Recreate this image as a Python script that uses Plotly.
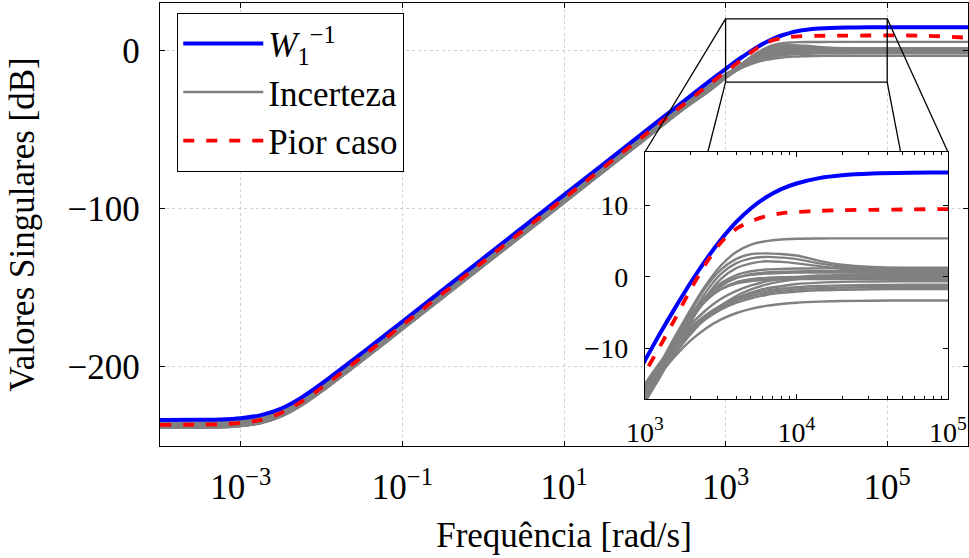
import math
import plotly.graph_objects as go

# ---------------- data ----------------
log_w = [-4, -3.5, -3.25, -3, -2.75, -2.5, -2.25, -2, -1.5, -1, 0, 1, 2, 2.5, 2.8,
         3.0, 3.1, 3.2, 3.3, 3.4, 3.5, 3.6, 3.7, 3.8, 3.9, 4.0,
         4.15, 4.3, 4.5, 4.75, 5.0, 5.5, 6.0]
freq = [10 ** e for e in log_w]

w1_inv_db = [-233.5, -233.4, -233.2, -232.4, -230.5, -226.3, -219.4, -210.6, -191.2, -171.3,
             -131.3, -91.3, -51.3, -31.3, -19.4,
             -11.7, -7.9, -4.3, -0.85, 2.33, 5.18, 7.63, 9.62, 11.16, 12.3, 13.09,
             13.84, 14.24, 14.49, 14.6, 14.63, 14.65, 14.65]

pior_caso_db = [-236.6, -236.5, -236.2, -235.4, -233.5, -229.1, -222.0, -213.2, -193.6, -173.6,
                -133.5, -93.5, -53.4, -33.3, -21.3,
                -13.4, -9.7, -5.8, -1.8, 1.8, 4.8, 6.7, 7.8, 8.5, 8.9, 9.1,
                9.25, 9.35, 9.4, 9.45, 9.5, 9.3, 8.0]

inc_01 = [-237.9, -237.8, -237.6, -236.8, -234.9, -230.7, -223.8, -215.0, -195.6, -175.7,
          -135.7, -95.7, -55.7, -35.7, -24.1,
          -16.2, -12.2, -8.3, -4.6, -1.2, 1.56, 3.45, 4.52, 5.01, 5.25, 5.34,
          5.38, 5.4, 5.4, 5.4, 5.4, 5.4, 5.4]
inc_02 = [-238.2, -238.1, -237.9, -237.1, -235.2, -231.0, -224.1, -215.3, -195.9, -176.0,
          -136.0, -96.0, -56.0, -36.0, -24.9,
          -16.8, -13.0, -9.0, -5.0, -1.5, 1.0, 2.5, 3.2, 3.3, 3.2, 3.0,
          2.25, 1.7, 1.4, 1.3, 1.3, 1.3, 1.3]
inc_03 = [-238.5, -238.4, -238.2, -237.4, -235.5, -231.3, -224.4, -215.6, -196.2, -176.3,
          -136.3, -96.3, -56.3, -36.3, -25.3,
          -17.2, -13.5, -9.6, -5.7, -2.2, 0.4, 1.9, 2.6, 2.8, 2.7, 2.5,
          1.9, 1.45, 1.2, 1.1, 1.1, 1.1, 1.1]
inc_04 = [-238.5, -238.4, -238.2, -237.4, -235.5, -231.3, -224.4, -215.6, -196.2, -176.3,
          -136.3, -96.3, -56.3, -36.3, -25.7,
          -17.6, -14.0, -10.2, -6.4, -2.9, -0.3, 1.2, 1.9, 2.2, 2.1, 1.9,
          1.5, 1.15, 0.95, 0.9, 0.9, 0.9, 0.9]
inc_05 = [-238.3, -238.2, -238.0, -237.2, -235.3, -231.1, -224.2, -215.4, -196.0, -176.1,
          -136.1, -96.1, -56.1, -36.1, -24.8,
          -16.9, -13.0, -9.2, -5.8, -2.9, -0.9, 0.23, 0.79, 1.03, 1.13, 1.17,
          1.2, 1.2, 1.2, 1.2, 1.2, 1.2, 1.2]
inc_06 = [-238.5, -238.4, -238.2, -237.4, -235.5, -231.3, -224.4, -215.6, -196.2, -176.3,
          -136.3, -96.3, -56.3, -36.3, -25.2,
          -17.3, -13.4, -9.6, -6.2, -3.3, -1.3, -0.17, 0.39, 0.63, 0.73, 0.77,
          0.8, 0.8, 0.8, 0.8, 0.8, 0.8, 0.8]
inc_07 = [-235.8, -235.7, -235.5, -234.7, -232.8, -228.6, -221.7, -212.9, -193.5, -173.6,
          -133.6, -93.6, -53.6, -33.8, -22.3,
          -15.2, -12.0, -9.1, -6.7, -4.7, -3.1, -2.0, -1.2, -0.63, -0.26, -0.03,
          0.19, 0.29, 0.36, 0.4, 0.4, 0.4, 0.4]
inc_08 = [-238.1, -238.0, -237.8, -237.0, -235.1, -230.9, -224.0, -215.2, -195.8, -175.9,
          -135.9, -95.9, -55.9, -35.9, -24.8,
          -16.9, -13.0, -9.3, -6.0, -3.4, -1.7, -0.76, -0.32, -0.13, -0.05, 0.0,
          0.0, 0.0, 0.0, 0.0, 0.0, 0.0, 0.0]
inc_09 = [-236.8, -236.7, -236.5, -235.7, -233.8, -229.6, -222.7, -213.9, -194.5, -174.6,
          -134.6, -94.6, -54.6, -34.6, -23.3,
          -16.2, -13.0, -10.1, -7.7, -5.7, -4.1, -3.0, -2.2, -1.6, -1.3, -1.0,
          -0.8, -0.7, -0.64, -0.6, -0.6, -0.6, -0.6]
inc_10 = [-237.8, -237.7, -237.5, -236.7, -234.8, -230.6, -223.7, -214.9, -195.5, -175.6,
          -135.6, -95.6, -55.6, -35.6, -24.2,
          -16.3, -12.4, -8.7, -5.4, -2.8, -1.1, -0.16, 0.28, 0.47, 0.55, 0.6,
          0.6, 0.6, 0.6, 0.6, 0.6, 0.6, 0.6]
inc_11 = [-237.7, -237.6, -237.4, -236.6, -234.7, -230.5, -223.6, -214.8, -195.4, -175.5,
          -135.5, -95.5, -55.5, -35.5, -24.3,
          -16.4, -12.6, -8.9, -5.8, -3.3, -1.76, -0.94, -0.57, -0.41, -0.34, -0.3,
          -0.3, -0.3, -0.3, -0.3, -0.3, -0.3, -0.3]
inc_12 = [-237.5, -237.4, -237.2, -236.4, -234.5, -230.3, -223.4, -214.6, -195.2, -175.3,
          -135.3, -95.3, -55.3, -35.3, -24.3,
          -17.1, -13.7, -10.7, -8.05, -5.8, -4.05, -2.7, -1.75, -1.08, -0.63, -0.34,
          -0.07, 0.06, 0.15, 0.18, 0.2, 0.2, 0.2]
inc_13 = [-235.3, -235.2, -235.0, -234.2, -232.3, -228.1, -221.2, -212.4, -193.0, -173.1,
          -133.1, -93.1, -53.1, -33.1, -21.9,
          -15.0, -12.0, -9.35, -7.1, -5.35, -4.0, -3.05, -2.4, -1.93, -1.64, -1.44,
          -1.27, -1.19, -1.13, -1.1, -1.1, -1.1, -1.1]
inc_14 = [-235.6, -235.5, -235.3, -234.5, -232.6, -228.4, -221.5, -212.7, -193.3, -173.4,
          -133.4, -93.4, -53.4, -33.4, -22.2,
          -15.3, -12.3, -9.65, -7.4, -5.65, -4.3, -3.35, -2.7, -2.23, -1.94, -1.74,
          -1.57, -1.49, -1.43, -1.4, -1.4, -1.4, -1.4]
inc_15 = [-235.9, -235.8, -235.6, -234.8, -232.9, -228.7, -221.8, -213.0, -193.6, -173.7,
          -133.7, -93.7, -53.7, -33.7, -22.5,
          -15.6, -12.6, -9.95, -7.7, -5.95, -4.6, -3.65, -3.0, -2.53, -2.24, -2.04,
          -1.87, -1.79, -1.73, -1.7, -1.7, -1.7, -1.7]
inc_16 = [-236.7, -236.6, -236.4, -235.6, -233.7, -229.5, -222.6, -213.8, -194.4, -174.5,
          -134.5, -94.5, -54.5, -34.5, -23.4,
          -16.6, -13.65, -11.07, -8.93, -7.25, -5.99, -5.09, -4.47, -4.06, -3.79, -3.61,
          -3.46, -3.38, -3.33, -3.3, -3.3, -3.3, -3.3]
incerteza = [inc_01, inc_02, inc_03, inc_04, inc_05, inc_06, inc_07, inc_08,
             inc_09, inc_10, inc_11, inc_12, inc_13, inc_14, inc_15, inc_16]

main_xticks = [1e-3, 1e-1, 1e1, 1e3, 1e5]
main_xtext = ["10<sup>−3</sup>", "10<sup>−1</sup>", "10<sup>1</sup>", "10<sup>3</sup>", "10<sup>5</sup>"]
main_yticks = [-200, -100, 0]
main_ytext = ["−200", "−100", "0"]
inset_xticks = [1e3, 1e4, 1e5]
inset_xtext = ["10<sup>3</sup>", "10<sup>4</sup>", "10<sup>5</sup>"]
inset_minor = [m * 10 ** d for d in (3, 4) for m in range(2, 10)]
inset_yticks = [-10, 0, 10]
inset_ytext = ["−10", "0", "10"]

# zoom window (data units of main axes)
zoom_x = [1e3, 1e5]
zoom_y = [-20, 20]

# ---------------- style / layout ----------------
FONT = "Liberation Serif"
W, H = 969, 558
ML, MR, MT, MB = 160, 1, 3, 112
main_xrange = [-4, 6]
main_yrange = [-250, 30]
inset_xrange = [3, 5]
inset_yrange = [-17.1, 17.5]
inset_dx = [0.6002, 0.9752]
inset_dy = [0.1061, 0.6637]

BLUE = "#0000ff"
RED = "#ff0000"
GRAY = "#808080"

fig = go.Figure()

for ax_x, ax_y, show in (("x", "y", True), ("x2", "y2", False)):
    for i, g in enumerate(incerteza):
        fig.add_trace(go.Scatter(
            x=freq, y=g, mode="lines", xaxis=ax_x, yaxis=ax_y,
            line=dict(color=GRAY, width=2.4, shape="spline", smoothing=0.8),
            name="Incerteza", legendgroup="inc", legendrank=2,
            showlegend=(show and i == 0), hoverinfo="skip"))
    fig.add_trace(go.Scatter(
        x=freq, y=w1_inv_db, mode="lines", xaxis=ax_x, yaxis=ax_y,
        line=dict(color=BLUE, width=4, shape="spline", smoothing=0.8),
        name="<i>W</i><sub>1</sub><sup>−1</sup>", legendgroup="w1", legendrank=1,
        showlegend=show, hoverinfo="skip"))
    fig.add_trace(go.Scatter(
        x=freq, y=pior_caso_db, mode="lines", xaxis=ax_x, yaxis=ax_y,
        line=dict(color=RED, width=3.8, dash="11px,12px", shape="spline", smoothing=0.8),
        name="Pior caso", legendgroup="pc", legendrank=3,
        showlegend=show, hoverinfo="skip"))

axis_common = dict(showline=True, linecolor="black", linewidth=1.4, mirror="ticks",
                   ticks="inside", tickcolor="black", tickwidth=1, zeroline=False,
                   automargin=False)

fig.update_layout(
    width=W, height=H,
    margin=dict(l=ML, r=MR, t=MT, b=MB, pad=0),
    paper_bgcolor="white", plot_bgcolor="white",
    font=dict(family=FONT, size=35, color="black"),
    xaxis=dict(type="log", range=main_xrange, tickmode="array", tickvals=main_xticks,
               ticktext=main_xtext, ticklen=5, showgrid=True, gridcolor="#d0d0d0",
               griddash="dot", gridwidth=1, ticklabelstandoff=10,
               title=dict(text="Frequência [rad/s]", standoff=16,
                          font=dict(family=FONT, size=35)),
               tickfont=dict(family=FONT, size=35), **axis_common),
    yaxis=dict(range=main_yrange, tickmode="array", tickvals=main_yticks,
               ticktext=main_ytext, ticklen=5, showgrid=True, gridcolor="#d0d0d0",
               griddash="dot", gridwidth=1, ticklabelstandoff=12,
               title=dict(text="Valores Singulares [dB]", standoff=22,
                          font=dict(family=FONT, size=35)),
               tickfont=dict(family=FONT, size=35), **axis_common),
    xaxis2=dict(type="log", range=inset_xrange, domain=inset_dx, anchor="y2",
                tickmode="array", tickvals=inset_xticks, ticktext=inset_xtext,
                ticklen=5, showgrid=False, ticklabelstandoff=8,
                minor=dict(tickmode="array", tickvals=inset_minor, ticks="inside",
                           ticklen=3, tickcolor="black", showgrid=False),
                tickfont=dict(family=FONT, size=28), **axis_common),
    yaxis2=dict(range=inset_yrange, domain=inset_dy, anchor="x2",
                tickmode="array", tickvals=inset_yticks, ticktext=inset_ytext,
                ticklen=5, showgrid=False, ticklabelstandoff=10,
                tickfont=dict(family=FONT, size=28), **axis_common),
    legend=dict(x=0.021, y=0.9774, xanchor="left", yanchor="top",
                bgcolor="white", bordercolor="black", borderwidth=1.3,
                font=dict(family=FONT, size=35), itemwidth=80,
                entrywidth=258, entrywidthmode="pixels",
                tracegroupgap=0, traceorder="normal"),
    showlegend=True,
)

# zoom rectangle on the main axes
fig.add_shape(type="rect", xref="x", yref="y", x0=zoom_x[0], x1=zoom_x[1],
              y0=zoom_y[0], y1=zoom_y[1], line=dict(color="black", width=1.3),
              fillcolor="rgba(0,0,0,0)", layer="above")

# connector lines (rectangle corners -> inset corners), in paper coordinates
def px(v):
    return (math.log10(v) - main_xrange[0]) / (main_xrange[1] - main_xrange[0])
def py(v):
    return (v - main_yrange[0]) / (main_yrange[1] - main_yrange[0])

rx0, rx1 = px(zoom_x[0]), px(zoom_x[1])
ry0, ry1 = py(zoom_y[0]), py(zoom_y[1])
ix0, ix1 = inset_dx
iy0, iy1 = inset_dy
segments = [((rx0, ry1), (ix0, iy1)), ((rx1, ry1), (ix1, iy1))]
for (sx, ex) in ((rx0, ix0), (rx1, ix1)):
    t = (ry0 - iy1) / (ry0 - iy0)
    segments.append(((sx, ry0), (sx + (ex - sx) * t, iy1)))
for (a, b) in segments:
    fig.add_shape(type="line", xref="paper", yref="paper", x0=a[0], y0=a[1],
                  x1=b[0], y1=b[1], line=dict(color="black", width=1.3), layer="above")

fig.write_html("out.html")
